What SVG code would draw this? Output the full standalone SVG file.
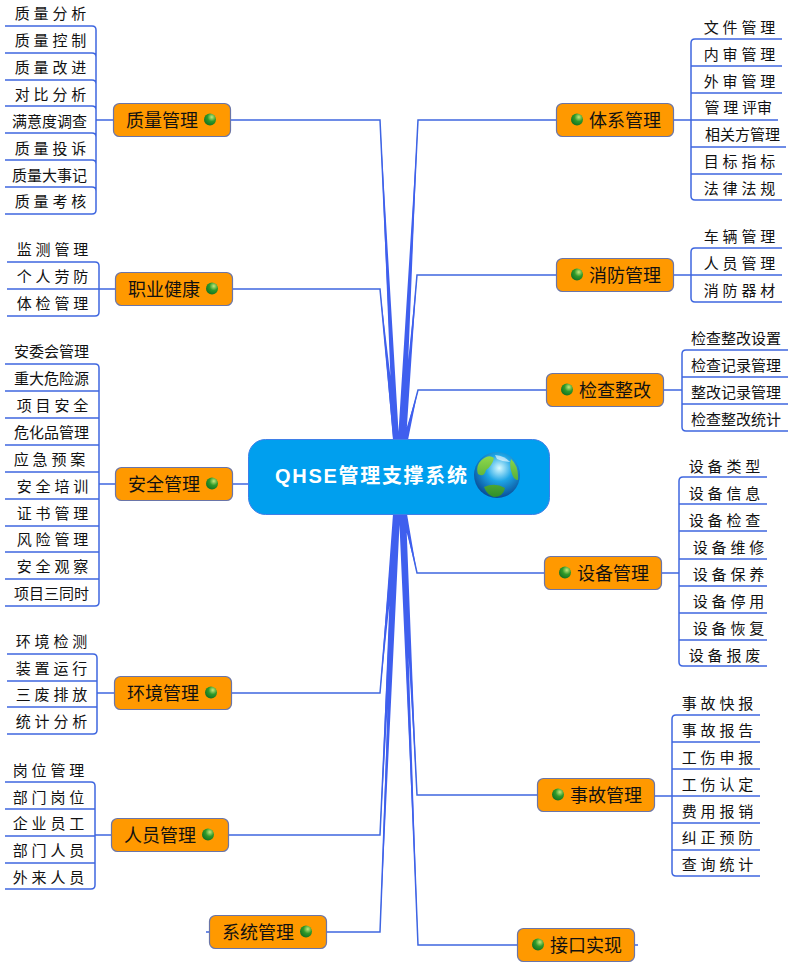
<svg xmlns="http://www.w3.org/2000/svg" width="793" height="967" viewBox="0 0 793 967">
<style>
text{font-family:"Noto Sans CJK SC","Liberation Sans",sans-serif;fill:#111}
.n rect{fill:#ff9900;stroke:#6a75a8;stroke-width:1.2}
.n text{font-size:18px;text-anchor:middle;dominant-baseline:central}
.l{font-size:15px;text-anchor:end;dominant-baseline:central}
.s{letter-spacing:3.8px}
.b{fill:none;stroke:#3f67e0;stroke-width:1.5}
.t{fill:#3f5fee;stroke:none}
</style>
<defs>
<radialGradient id="dot" cx="0.65" cy="0.3" r="0.8"><stop offset="0" stop-color="#c4e87a"/><stop offset="0.45" stop-color="#2f9a2a"/><stop offset="1" stop-color="#0f6a20"/></radialGradient>
<radialGradient id="globe" cx="0.55" cy="0.35" r="0.72"><stop offset="0" stop-color="#d8faff"/><stop offset="0.4" stop-color="#1ea5e6"/><stop offset="0.85" stop-color="#0b559f"/><stop offset="1" stop-color="#083d7c"/></radialGradient>
<linearGradient id="land" x1="0" y1="0" x2="0" y2="1"><stop offset="0" stop-color="#8fd94a"/><stop offset="1" stop-color="#2f8f2a"/></linearGradient>
</defs>
<g id="connectors">
<path class="b" d="M395 440L380 120H231M402 440L418 120H556M394 440L380 289H233M403 440L417 275H556M405 440L418 390H546M248 484H233M404 514L417 573H544M395 514L380 693H232M395 514L380 835H229M396 514L380 932H327M403 514L417 795H537M401 514L418 945H517"/>
<path class="t" d="M393 440L380 120L399 440ZM398 440L418 120L405 440ZM393 440L380 289L398 440ZM400 440L417 275L406 440ZM403 440L418 390L408 440ZM402 514L417 573L407 514ZM393 514L380 693L399 514ZM393 514L380 835L399 514ZM394 514L380 932L400 514ZM400 514L417 795L406 514ZM399 514L418 945L404 514Z"/>
<path class="b" d="M5 26H92Q96 26 96 30V210Q96 214 92 214H5M5 53H92Q96 53 96 57M5 80H92Q96 80 96 84M5 106H92Q96 106 96 110M5 133H92Q96 133 96 137M5 160H92Q96 160 96 164M5 187H92Q96 187 96 191M96 120H113"/>
<path class="b" d="M7 262H95Q99 262 99 266V312Q99 316 95 316H7M7 289H99H115"/>
<path class="b" d="M5 364H95Q99 364 99 368V602Q99 606 95 606H5M5 391H99M5 418H99M5 445H99M5 472H99M5 499H99M5 526H99M5 552H99M5 579H99M99 484H115"/>
<path class="b" d="M7 654H93Q97 654 97 658V730Q97 734 93 734H7M7 681H97M7 707H97M97 693H114"/>
<path class="b" d="M5 782H91Q95 782 95 786V885Q95 889 91 889H5M5 809H95M5 836H95M5 863H95M95 835H111"/>
<path class="b" d="M782 39H695Q691 39 691 43V196Q691 200 695 200H782M782 66H691M782 93H691M778 120H691M786 147H691M782 174H691M673 120H691"/>
<path class="b" d="M782 248H695Q691 248 691 252V298Q691 302 695 302H782M782 275H674"/>
<path class="b" d="M788 350H686Q682 350 682 354V427Q682 431 686 431H788M788 377H682M788 404H682M664 390H682"/>
<path class="b" d="M767 477H683Q679 477 679 481V662Q679 666 683 666H767M767 504H679M767 531H679M767 559H679M767 586H679M767 613H679M767 640H679M662 573H679"/>
<path class="b" d="M760 715H676Q672 715 672 719V872Q672 876 676 876H760M760 742H672M760 769H672M760 796H655M760 823H672M760 850H672"/>
<path class="b" d="M206 932H209M635 945H638"/>
</g>
<g id="root">
<rect x="248.5" y="439.5" width="301" height="75" rx="17" fill="#009fee" stroke="#3f7fe8"/>
<text x="275" y="476" font-size="20" font-weight="700" letter-spacing="1.7" style="fill:#fff;dominant-baseline:central;font-family:'Liberation Sans','Noto Sans CJK SC',sans-serif">QHSE管理支撑系统</text>
<circle cx="497" cy="475" r="23" fill="url(#globe)"/>
<path d="M479 463Q487 453 494 458Q492 466 486 470Q484 478 478 474Q476 468 479 463Z M511 459Q519 466 518 480Q514 480 512 474Q509 466 511 459Z M484 487Q495 482 505 488Q503 497 494 497Q487 495 484 487Z" fill="url(#land)"/>
<path d="M495 455Q505 456 510 462Q503 462 497 459Z" fill="#fff" opacity="0.6"/>
</g>
<g id="n1" class="n"><rect x="113.5" y="103.5" width="117" height="33" rx="6"/><text x="162" y="118.5">质量管理</text><circle cx="210" cy="119.5" r="6" fill="url(#dot)"/></g>
<g id="n2" class="n"><rect x="115.5" y="272.5" width="117" height="33" rx="6"/><text x="164" y="287.5">职业健康</text><circle cx="212" cy="288.5" r="6" fill="url(#dot)"/></g>
<g id="n3" class="n"><rect x="115.5" y="467.5" width="117" height="33" rx="6"/><text x="164" y="482.5">安全管理</text><circle cx="212" cy="483.5" r="6" fill="url(#dot)"/></g>
<g id="n4" class="n"><rect x="114.5" y="676.5" width="117" height="33" rx="6"/><text x="163" y="691.5">环境管理</text><circle cx="211" cy="692.5" r="6" fill="url(#dot)"/></g>
<g id="n5" class="n"><rect x="111.5" y="818.5" width="117" height="33" rx="6"/><text x="160" y="833.5">人员管理</text><circle cx="208" cy="834.5" r="6" fill="url(#dot)"/></g>
<g id="n6" class="n"><rect x="209.5" y="915.5" width="117" height="33" rx="6"/><text x="258" y="930.5">系统管理</text><circle cx="306" cy="931.5" r="6" fill="url(#dot)"/></g>
<g id="n7" class="n"><rect x="556.5" y="103.5" width="117" height="33" rx="6"/><text x="625" y="118.5">体系管理</text><circle cx="577" cy="119.5" r="6" fill="url(#dot)"/></g>
<g id="n8" class="n"><rect x="556.5" y="258.5" width="117" height="33" rx="6"/><text x="625" y="273.5">消防管理</text><circle cx="577" cy="274.5" r="6" fill="url(#dot)"/></g>
<g id="n9" class="n"><rect x="546.5" y="373.5" width="117" height="33" rx="6"/><text x="615" y="388.5">检查整改</text><circle cx="567" cy="389.5" r="6" fill="url(#dot)"/></g>
<g id="n10" class="n"><rect x="544.5" y="556.5" width="117" height="33" rx="6"/><text x="613" y="571.5">设备管理</text><circle cx="565" cy="572.5" r="6" fill="url(#dot)"/></g>
<g id="n11" class="n"><rect x="537.5" y="778.5" width="117" height="33" rx="6"/><text x="606" y="793.5">事故管理</text><circle cx="558" cy="794.5" r="6" fill="url(#dot)"/></g>
<g id="n12" class="n"><rect x="517.5" y="928.5" width="117" height="33" rx="6"/><text x="586" y="943.5">接口实现</text><circle cx="538" cy="944.5" r="6" fill="url(#dot)"/></g>
<g id="leaves" transform="translate(0,-2)">
<text class="l s" x="90" y="14">质量分析</text><text class="l s" x="90" y="41">质量控制</text><text class="l s" x="90" y="68">质量改进</text><text class="l s" x="90" y="95">对比分析</text><text class="l" x="87" y="122">满意度调查</text><text class="l s" x="90" y="149">质量投诉</text><text class="l" x="87" y="176">质量大事记</text><text class="l s" x="90" y="202">质量考核</text>
<text class="l s" x="92" y="250">监测管理</text><text class="l s" x="92" y="277">个人劳防</text><text class="l s" x="92" y="304">体检管理</text>
<text class="l" x="89" y="352">安委会管理</text><text class="l" x="89" y="379">重大危险源</text><text class="l s" x="92" y="406">项目安全</text><text class="l" x="89" y="433">危化品管理</text><text class="l s" x="89" y="460">应急预案</text><text class="l s" x="92" y="487">安全培训</text><text class="l s" x="92" y="514">证书管理</text><text class="l s" x="92" y="540">风险管理</text><text class="l s" x="92" y="567">安全观察</text><text class="l" x="89" y="594">项目三同时</text>
<text class="l s" x="91" y="642">环境检测</text><text class="l s" x="91" y="669">装置运行</text><text class="l s" x="91" y="695">三废排放</text><text class="l s" x="91" y="722">统计分析</text>
<text class="l s" x="88" y="771">岗位管理</text><text class="l s" x="88" y="798">部门岗位</text><text class="l s" x="88" y="824">企业员工</text><text class="l s" x="88" y="851">部门人员</text><text class="l s" x="88" y="878">外来人员</text>
<text class="l s" x="779" y="28">文件管理</text><text class="l s" x="779" y="55">内审管理</text><text class="l s" x="779" y="82">外审管理</text><text class="l" x="772" y="108"><tspan class="s">管理</tspan>评审</text><text class="l" x="780" y="135">相关方管理</text><text class="l s" x="779" y="162">目标指标</text><text class="l s" x="779" y="189">法律法规</text>
<text class="l s" x="779" y="237">车辆管理</text><text class="l s" x="779" y="264">人员管理</text><text class="l s" x="779" y="291">消防器材</text>
<text class="l" x="781" y="339">检查整改设置</text><text class="l" x="781" y="366">检查记录管理</text><text class="l" x="781" y="393">整改记录管理</text><text class="l" x="781" y="420">检查整改统计</text>
<text class="l s" x="764" y="467">设备类型</text><text class="l s" x="764" y="494">设备信息</text><text class="l s" x="764" y="521">设备检查</text><text class="l s" x="768" y="548">设备维修</text><text class="l s" x="768" y="575">设备保养</text><text class="l s" x="768" y="602">设备停用</text><text class="l s" x="768" y="629">设备恢复</text><text class="l s" x="764" y="656">设备报废</text>
<text class="l s" x="757" y="704">事故快报</text><text class="l s" x="757" y="731">事故报告</text><text class="l s" x="757" y="758">工伤申报</text><text class="l s" x="757" y="785">工伤认定</text><text class="l s" x="757" y="812">费用报销</text><text class="l s" x="757" y="838">纠正预防</text><text class="l s" x="757" y="865">查询统计</text>
</g>
</svg>
